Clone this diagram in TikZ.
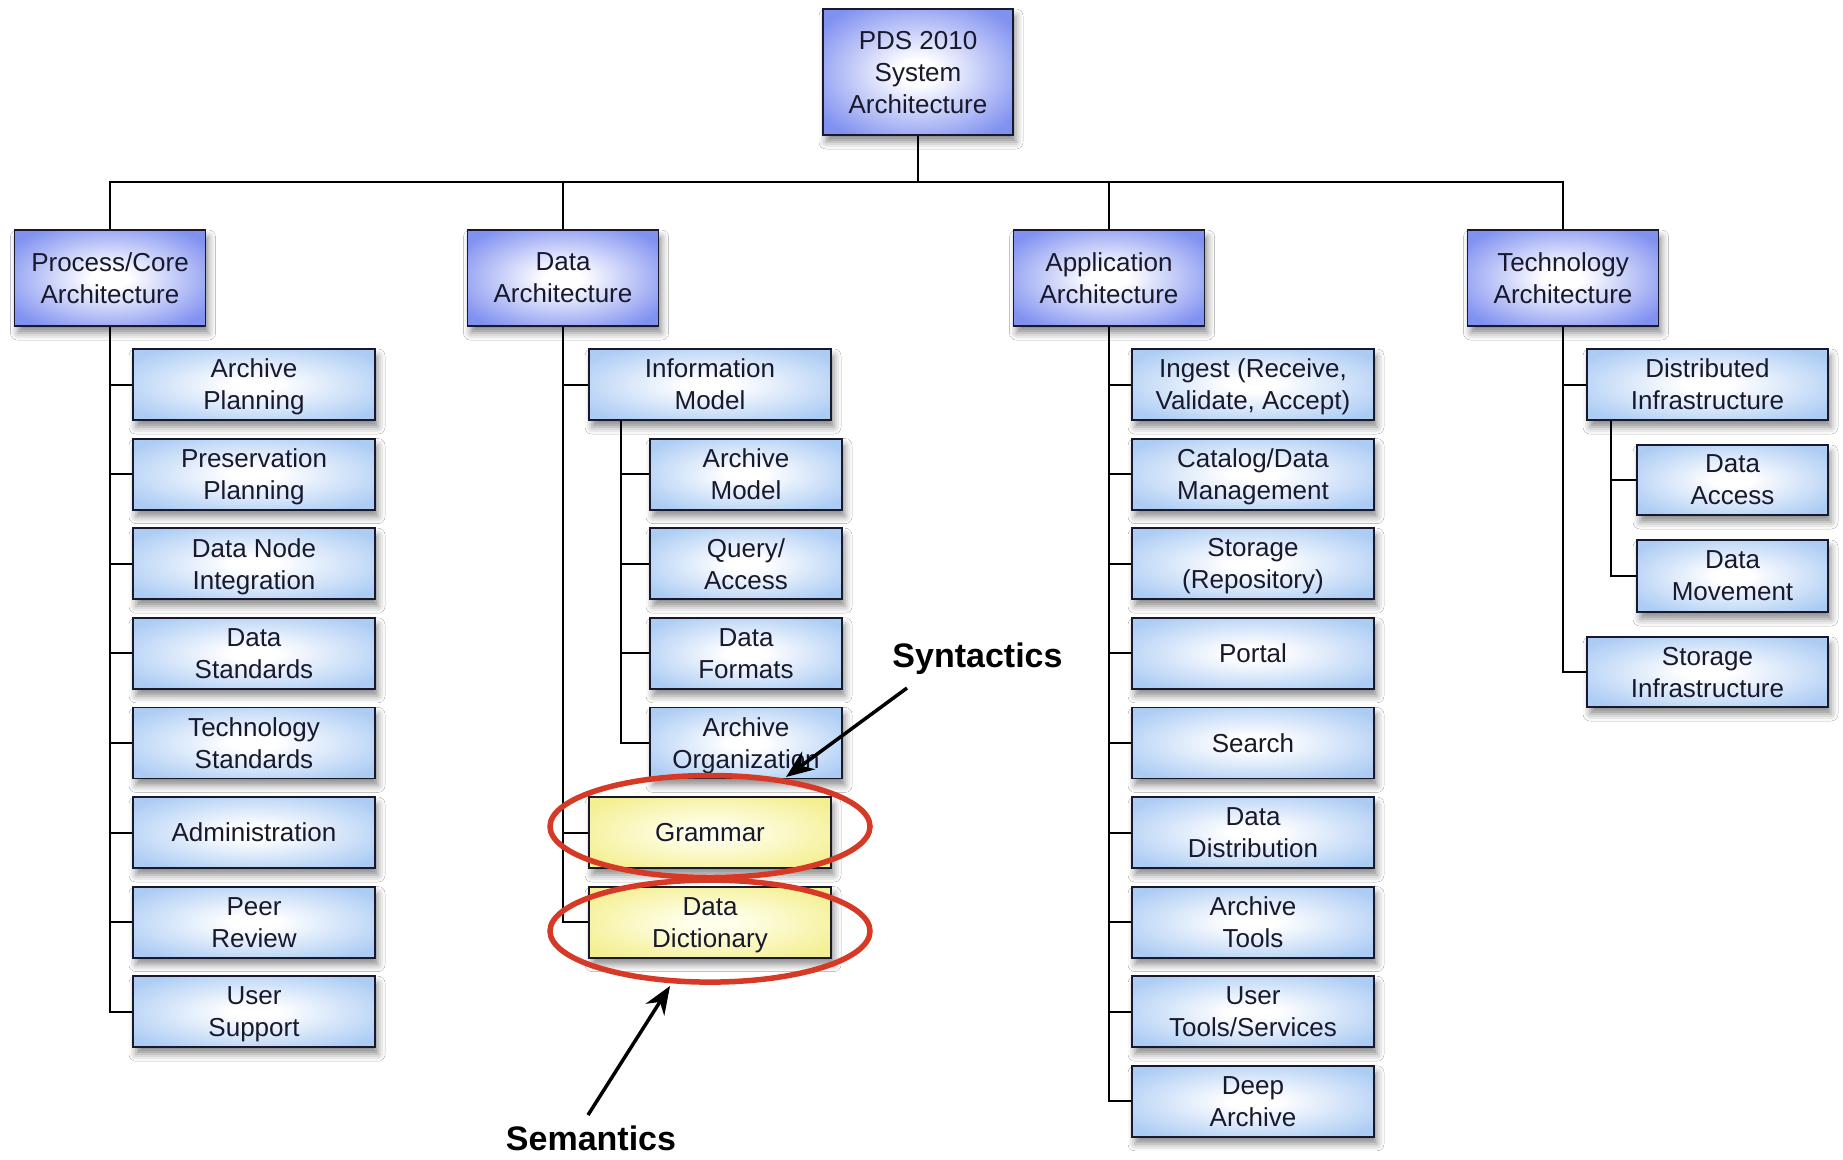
\documentclass[tikz,border=0pt]{standalone}
\usepackage{fontspec}
\setmainfont{Liberation Sans}
\usetikzlibrary{shadows.blur,arrows.meta}
\definecolor{topblue}{RGB}{128,145,240}
\definecolor{kidblue}{RGB}{172,204,244}
\definecolor{yel}{RGB}{244,239,145}
\definecolor{yelin}{RGB}{255,255,235}
\definecolor{ringred}{RGB}{214,58,38}
\definecolor{ink}{RGB}{25,25,45}
\pgfdeclareradialshading{topshade}{\pgfpoint{0bp}{0bp}}{color(0bp)=(white); color(5bp)=(white); color(31bp)=(topblue); color(50bp)=(topblue)}
\pgfdeclareradialshading{kidshade}{\pgfpoint{0bp}{0bp}}{color(0bp)=(white); color(5bp)=(white); color(31bp)=(kidblue); color(50bp)=(kidblue)}
\pgfdeclareradialshading{yelshade}{\pgfpoint{0bp}{0bp}}{color(0bp)=(yelin); color(5bp)=(yelin); color(31bp)=(yel); color(50bp)=(yel)}
\tikzset{
 box/.style={draw=ink, line width=1.8pt, align=center, text=ink,
   font=\fontsize{26}{32}\selectfont, inner sep=0pt, text depth=0pt,
   blur shadow={shadow xshift=3pt, shadow yshift=-7pt, shadow blur radius=7pt, shadow opacity=45}},
 topbox/.style={box, shading=topshade, minimum width=191pt, minimum height=96pt},
 kid/.style={box, shading=kidshade, minimum width=242pt, minimum height=71pt},
 subkid/.style={kid, minimum width=192pt},
 yelbox/.style={kid, shading=yelshade},
 link/.style={draw=black, line width=2pt},
 ring/.style={draw=ringred, line width=5.5pt},
 callout/.style={draw=black, line width=3.5pt, -{Stealth[length=28pt,width=22pt]}},
 lab/.style={font=\fontsize{34}{40}\selectfont\bfseries, text=black, inner sep=0pt, anchor=base}
}
\begin{document}
\begin{tikzpicture}[x=1pt,y=-1pt]
\useasboundingbox[fill=white] (0,0) rectangle (1843,1159);

\coordinate (bus) at (918,182);

% root
\node[topbox, minimum width=190pt, minimum height=126pt] (root) at (918,72) {PDS 2010\\System\\Architecture};

% level 1
\node[topbox] (pc) at (110,278) {Process/Core\\Architecture};
\node[topbox] (da) at (563,278) {Data\\Architecture};
\node[topbox] (aa) at (1109,278) {Application\\Architecture};
\node[topbox] (ta) at (1563,278) {Technology\\Architecture};

% process children
\node[kid] (p1) at (254,384.5) {Archive\\Planning};
\node[kid] (p2) at (254,474.1) {Preservation\\Planning};
\node[kid] (p3) at (254,563.7) {Data Node\\Integration};
\node[kid] (p4) at (254,653.3) {Data\\Standards};
\node[kid] (p5) at (254,742.9) {Technology\\Standards};
\node[kid] (p6) at (254,832.5) {Administration};
\node[kid] (p7) at (254,922.1) {Peer\\Review};
\node[kid] (p8) at (254,1011.7) {User\\Support};

% data children
\node[kid] (im) at (710,384.5) {Information\\Model};
\node[subkid] (am) at (746,474.1) {Archive\\Model};
\node[subkid] (qa) at (746,563.7) {Query/\\Access};
\node[subkid] (df) at (746,653.3) {Data\\Formats};
\node[subkid] (ao) at (746,742.9) {Archive\\Organization};
\node[yelbox] (gr) at (710,832.5) {Grammar};
\node[yelbox] (dd) at (710,922.1) {Data\\Dictionary};

% application children
\node[kid] (a1) at (1253,384.5) {Ingest (Receive,\\Validate, Accept)};
\node[kid] (a2) at (1253,474.1) {Catalog/Data\\Management};
\node[kid] (a3) at (1253,563.7) {Storage\\(Repository)};
\node[kid] (a4) at (1253,653.3) {Portal};
\node[kid] (a5) at (1253,742.9) {Search};
\node[kid] (a6) at (1253,832.5) {Data\\Distribution};
\node[kid] (a7) at (1253,922.1) {Archive\\Tools};
\node[kid] (a8) at (1253,1011.7) {User\\Tools/Services};
\node[kid] (a9) at (1253,1101.3) {Deep\\Archive};

% technology children
\node[kid, minimum width=241pt] (di) at (1707.5,384.5) {Distributed\\Infrastructure};
\node[subkid, minimum width=191pt, minimum height=70pt] (dac) at (1732.5,480) {Data\\Access};
\node[subkid, minimum width=191pt, minimum height=72pt] (dmv) at (1732.5,576) {Data\\Movement};
\node[kid, minimum width=241pt, minimum height=70pt] (si) at (1707.5,672) {Storage\\Infrastructure};

% tree lines
\draw[link] (root.south) -- (bus);
\draw[link] (pc.north) |- (bus) -| (ta.north);
\draw[link] (da.north) -- (da.north |- bus);
\draw[link] (aa.north) -- (aa.north |- bus);

\draw[link] (pc.south) |- (p8.west);
\foreach \n in {p1,p2,p3,p4,p5,p6,p7}{\draw[link] (pc.south |- \n.west) -- (\n.west);}

\draw[link] (da.south) |- (dd.west);
\foreach \n in {im,gr}{\draw[link] (da.south |- \n.west) -- (\n.west);}
\draw[link] ([xshift=33pt]im.south west) |- (ao.west);
\foreach \n in {am,qa,df}{\draw[link] ([xshift=33pt]im.south west |- \n.west) -- (\n.west);}

\draw[link] (aa.south) |- (a9.west);
\foreach \n in {a1,a2,a3,a4,a5,a6,a7,a8}{\draw[link] (aa.south |- \n.west) -- (\n.west);}

\draw[link] (ta.south) |- (si.west);
\draw[link] (ta.south |- di.west) -- (di.west);
\draw[link] ([xshift=25pt]di.south west) |- (dmv.west);
\draw[link] ([xshift=25pt]di.south west |- dac.west) -- (dac.west);

% red rings
\draw[ring] ([yshift=6pt]gr.center) ellipse (160pt and 51pt);
\draw[ring] ([yshift=-9pt]dd.center) ellipse (160pt and 51pt);

% labels and callouts
\node[lab] (syn) at (977.5,667) {Syntactics};
\node[lab] (sem) at (591,1150) {Semantics};
\coordinate (synA) at (907,688);
\coordinate (synB) at (786,777);
\coordinate (semA) at (588,1115);
\coordinate (semB) at (670,986);
\draw[callout] (synA) -- (synB);
\draw[callout] (semA) -- (semB);
\end{tikzpicture}
\end{document}
